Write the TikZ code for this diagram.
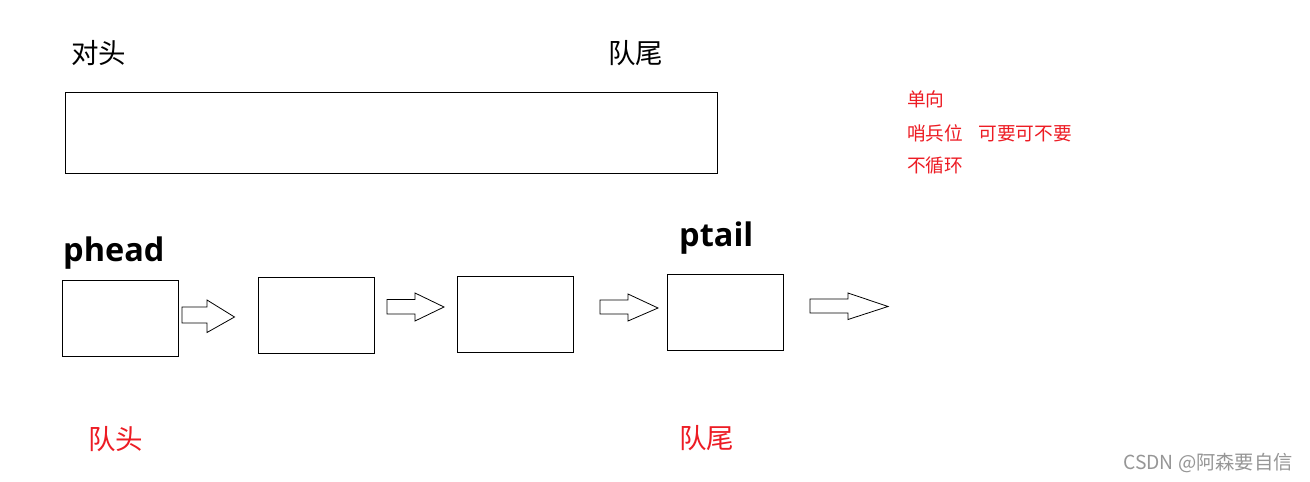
\documentclass[tikz,border=0pt]{standalone}
\usepackage{fontspec}
\newfontfamily\cjk{Noto Sans CJK SC}
\newfontfamily\latb{Open Sans}
\definecolor{paintred}{RGB}{237,28,36}
\definecolor{wmgray}{RGB}{150,150,150}
\begin{document}
\begin{tikzpicture}[x=1pt,y=-1pt,
  box/.style={draw=black,line width=1pt,minimum width=#1,minimum height=76pt,inner sep=0pt},
  box/.default=116pt,
  lbl/.style={inner sep=0pt,anchor=west,font=\cjk\fontsize{27.5}{27.5}\selectfont},
  note/.style={inner sep=0pt,anchor=west,text=paintred,font=\cjk\fontsize{18.7}{18.7}\selectfont},
  ptr/.style={inner sep=0pt,anchor=base west,font=\latb\bfseries\fontsize{32.5}{32.5}\selectfont},
  blk/.style={draw=black,line width=0.8pt,fill=white,line join=miter}]
\useasboundingbox (0,0) rectangle (1310,482);
\fill[white] (0,0) rectangle (1310,482);
% top labels and array
\node[lbl] (dt) at (71,53) {对头};
\node[lbl] (dw) at (608,53) {队尾};
\node[draw=black,line width=1pt,inner sep=0pt,minimum width=652pt,minimum height=81pt] (arr) at (391,132.5) {};
% notes
\node[note] (n1) at (907,99) {单向};
\node[note] (n2) at (907,133) {哨兵位\hspace{15pt}可要可不要};
\node[note] (n3) at (907,165.5) {不循环};
% pointer labels
\node[ptr] (ph) at (63,261) {phead};
\node[ptr] (pt) at (679,246) {ptail};
% list boxes
\node[box] (b1) at (120,318) {};
\node[box] (b2) at (316,315.5) {};
\node[box] (b3) at (515.5,314.5) {};
\node[box] (b4) at (725,312) {};
% block arrows
\draw[blk] (182,307) -- (207,307) -- (207,300) -- (234.5,317) -- (207,332.5) -- (207,323) -- (182,323) -- cycle;
\draw[blk] (387,299.5) -- (415,299.5) -- (415,293) -- (444,307) -- (415,321) -- (415,314) -- (387,314) -- cycle;
\draw[blk] (600,300) -- (628,300) -- (628,294) -- (658,308) -- (628,321) -- (628,314) -- (600,314) -- cycle;
\draw[blk] (810,299) -- (848,299) -- (848,293) -- (888,306.5) -- (848,319.5) -- (848,313) -- (810,313) -- cycle;
% bottom labels
\node[lbl,text=paintred] (qh) at (88,439) {队头};
\node[lbl,text=paintred] (qt) at (679,438) {队尾};
% watermark
\node[inner sep=0pt,anchor=west,text=wmgray,font=\cjk\fontsize{19.3}{19.3}\selectfont] (wm) at (1123,463) {CSDN @阿森要自信};
\end{tikzpicture}
\end{document}
